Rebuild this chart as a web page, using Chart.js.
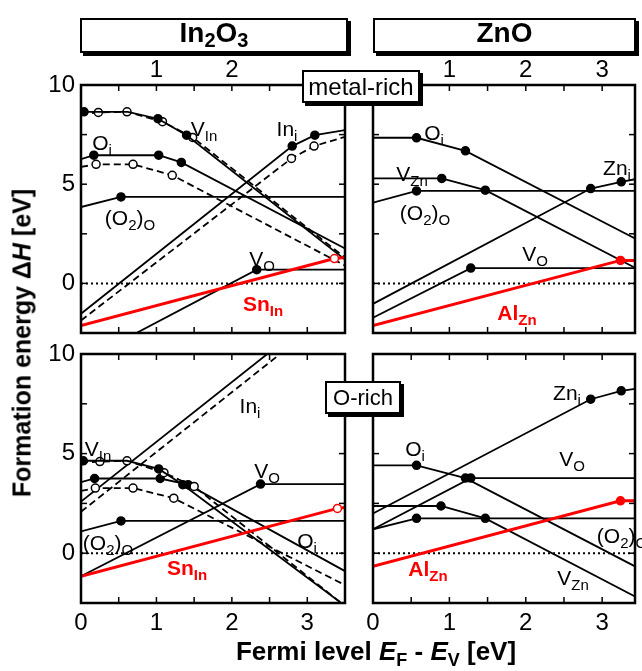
<!DOCTYPE html>
<html><head><meta charset="utf-8">
<script src="https://cdn.jsdelivr.net/npm/chart.js@4.4.1/dist/chart.umd.min.js"></script>
<style>
html,body{margin:0;padding:0;background:#fff;}
body{width:642px;height:671px;position:relative;overflow:hidden;font-family:"Liberation Sans",Arial,Helvetica,sans-serif;}
canvas{position:absolute;z-index:1;}
.box{position:absolute;border:2px solid #000;background:#fff;box-shadow:3px 3px 0 #000;box-sizing:border-box;display:flex;align-items:center;justify-content:center;z-index:5;line-height:1;}
.lab{position:absolute;transform:translate(-50%,-50%);font-size:21px;line-height:1;white-space:nowrap;color:#000;z-index:3;}
.lab sub{font-size:15px;vertical-align:-5px;line-height:0;}
.red{color:#f00;font-weight:bold;}
.title{font-weight:bold;font-size:28px;}
.title span{position:relative;top:-3px;}
.title sub{font-size:20px;vertical-align:-5px;line-height:0;}
.axt{position:absolute;font-weight:bold;font-size:25px;white-space:nowrap;line-height:1;z-index:3;}
.axt sub{font-size:18px;vertical-align:-6px;line-height:0;}
</style></head><body>

<div class="box title" style="left:80px;top:18px;width:268px;height:35px;"><span>In<sub>2</sub>O<sub>3</sub></span></div>
<div class="box title" style="left:373px;top:18px;width:263px;height:35px;"><span>ZnO</span></div>
<div class="box" style="left:302px;top:70px;width:118px;height:33px;font-size:24px;"><span>metal-rich</span></div>
<div class="box" style="left:325px;top:381px;width:76px;height:33px;font-size:22px;"><span>O-rich</span></div>

<div class="axt" style="left:22px;top:343px;transform:translate(-50%,-50%) rotate(-90deg);">Formation energy &Delta;<i>H</i> [eV]</div>
<div class="axt" style="left:376px;top:651px;transform:translate(-50%,-50%);font-size:26px;">Fermi level <i>E</i><sub>F</sub> - <i>E</i><sub>V</sub> [eV]</div>

<script>
// ---------- tick labels ----------
const xTickLabels = [0, 1, 2, 3];
const xTopLabelsIn2O3 = [1, 2];
const xTopLabelsZnO = [1, 2, 3];
const yTickLabels = [0, 5, 10];
const xMaxIn2O3 = 3.5;
const xMaxZnO = 3.43;
const yMin = -2.5, yMax = 10;

// ---------- In2O3, metal-rich ----------
const inM_VIn      = [[0,8.65],[0.04,8.65],[0.62,8.65],[1.02,8.3],[1.40,7.47],[3.5,1.2]];
const inM_VIn_dots = [1,3,4];
const inM_VIn2     = [[0,8.53],[0.23,8.62],[0.61,8.65],[1.08,8.15],[1.48,7.36],[3.5,1.3]];
const inM_VIn2_dots= [1,2,3,4];
const inM_Oi       = [[0,6.26],[0.17,6.46],[1.03,6.46],[1.33,6.1],[3.5,1.76]];
const inM_Oi_dots  = [1,2,3];
const inM_Oi2      = [[0,5.87],[0.2,6.0],[0.69,6.0],[1.21,5.45],[3.5,0.9]];
const inM_Oi2_dots = [1,2,3];
const inM_Ini      = [[0,-1.53],[2.80,6.92],[3.10,7.47],[3.5,7.73]];
const inM_Ini_dots = [1,2];
const inM_Ini2     = [[0,-1.87],[2.79,6.30],[3.09,6.92],[3.5,7.39]];
const inM_Ini2_dots= [1,2];
const inM_O2O      = [[0,3.85],[0.53,4.36],[3.5,4.36]];
const inM_O2O_dots = [1];
const inM_VO       = [[0,-3.97],[2.33,0.69],[3.5,0.69]];
const inM_VO_dots  = [1];
const inM_SnIn     = [[0,-2.12],[3.36,1.25],[3.5,1.3]];
const inM_SnIn_dots= [1];

// ---------- ZnO, metal-rich ----------
const znM_Oi       = [[0,7.34],[0.57,7.34],[1.21,6.68],[3.43,2.26]];
const znM_Oi_dots  = [1,2];
const znM_VZn      = [[0,5.29],[0.90,5.29],[1.47,4.70],[3.43,0.79]];
const znM_VZn_dots = [1,2];
const znM_O2O      = [[0,4.07],[0.57,4.66],[3.43,4.66]];
const znM_O2O_dots = [1];
const znM_Zni      = [[0,-1.03],[2.85,4.78],[3.25,5.12],[3.43,5.25]];
const znM_Zni_dots = [1,2];
const znM_VO       = [[0,-1.73],[1.28,0.77],[3.43,0.77]];
const znM_VO_dots  = [1];
const znM_AlZn     = [[0,-2.12],[3.24,1.16],[3.43,1.16]];
const znM_AlZn_dots= [1];

// ---------- In2O3, O-rich ----------
const inO_VIn      = [[0,4.64],[0.03,4.64],[0.61,4.64],[1.03,4.23],[1.35,3.44],[3.5,-2.64]];
const inO_VIn_dots = [1,3,4];
const inO_VIn2     = [[0,4.55],[0.25,4.6],[0.61,4.64],[1.10,4.04],[1.50,3.35],[3.5,-2.65]];
const inO_VIn2_dots= [1,2,3,4];
const inO_Oi       = [[0,3.57],[0.18,3.75],[1.05,3.75],[1.42,3.44],[3.5,-0.9]];
const inO_Oi_dots  = [1,2,3];
const inO_Oi2      = [[0,3.13],[0.19,3.27],[0.69,3.27],[1.23,2.76],[3.5,-1.6]];
const inO_Oi2_dots = [1,2,3];
const inO_Ini      = [[0,2.59],[3.5,13.09]];
const inO_Ini2     = [[0,2.08],[3.5,12.58]];
const inO_O2O      = [[0,1.09],[0.53,1.62],[3.5,1.62]];
const inO_O2O_dots = [1];
const inO_VO       = [[0,-1.16],[2.38,3.47],[3.5,3.47]];
const inO_VO_dots  = [1];
const inO_SnIn     = [[0,-1.16],[3.40,2.25],[3.5,2.3]];
const inO_SnIn_dots= [1];

// ---------- ZnO, O-rich ----------
const znO_Oi       = [[0,4.41],[0.57,4.41],[1.21,3.77],[3.43,-0.66]];
const znO_Oi_dots  = [1,2];
const znO_VO       = [[0,1.2],[1.28,3.77],[3.43,3.77]];
const znO_VO_dots  = [1];
const znO_Zni      = [[0,1.99],[2.85,7.73],[3.25,8.15],[3.43,8.25]];
const znO_Zni_dots = [1,2];
const znO_VZn      = [[0,2.37],[0.89,2.37],[1.47,1.75],[3.43,-2.17]];
const znO_VZn_dots = [1,2];
const znO_O2O      = [[0,1.2],[0.57,1.75],[3.43,1.75]];
const znO_O2O_dots = [1];
const znO_AlZn     = [[0,-0.66],[3.24,2.63],[3.43,2.63]];
const znO_AlZn_dots= [1];

const zeroIn = [[0,0],[xMaxIn2O3,0]];
const zeroZn = [[0,0],[xMaxZnO,0]];

// ---------- styles ----------
const DASH = [7,4];
const RED = '#ff0000';
const Z = d => ({data:d, dash:[2,3], w:2});
const S = (d,dots) => ({data:d, dots});
const D = (d,dots) => ({data:d, dots, dash:DASH, open:true});
const Rd = (d,dots,open) => ({data:d, dots, color:RED, w:3, open});

const PANELS = [
  {L:81,T:85,R:345,B:333,xmax:xMaxIn2O3,bottom:false,top:xTopLabelsIn2O3,left:true,
   series:[Z(zeroIn), S(inM_VO,inM_VO_dots), S(inM_O2O,inM_O2O_dots), D(inM_Ini2,inM_Ini2_dots), S(inM_Ini,inM_Ini_dots),
           D(inM_Oi2,inM_Oi2_dots), S(inM_Oi,inM_Oi_dots), D(inM_VIn2,inM_VIn2_dots), S(inM_VIn,inM_VIn_dots),
           Rd(inM_SnIn,inM_SnIn_dots,true)]},
  {L:373,T:85,R:635,B:333,xmax:xMaxZnO,bottom:false,top:xTopLabelsZnO,left:false,
   series:[Z(zeroZn), S(znM_VO,znM_VO_dots), S(znM_Zni,znM_Zni_dots), S(znM_O2O,znM_O2O_dots), S(znM_VZn,znM_VZn_dots),
           S(znM_Oi,znM_Oi_dots), Rd(znM_AlZn,znM_AlZn_dots,false)]},
  {L:81,T:354,R:345,B:603,xmax:xMaxIn2O3,bottom:true,top:null,left:true,
   series:[Z(zeroIn), S(inO_O2O,inO_O2O_dots), S(inO_VO,inO_VO_dots), D(inO_Ini2,[]), S(inO_Ini,[]),
           D(inO_Oi2,inO_Oi2_dots), S(inO_Oi,inO_Oi_dots), D(inO_VIn2,inO_VIn2_dots), S(inO_VIn,inO_VIn_dots),
           Rd(inO_SnIn,inO_SnIn_dots,true)]},
  {L:373,T:354,R:635,B:603,xmax:xMaxZnO,bottom:true,top:null,left:false,
   series:[Z(zeroZn), S(znO_O2O,znO_O2O_dots), S(znO_VZn,znO_VZn_dots), S(znO_VO,znO_VO_dots), S(znO_Zni,znO_Zni_dots),
           S(znO_Oi,znO_Oi_dots), Rd(znO_AlZn,znO_AlZn_dots,false)]}
];

Chart.defaults.font.family = '"Liberation Sans", Arial, Helvetica, sans-serif';
Chart.defaults.color = '#000';

const framePlugin = {
  id:'frame',
  afterDatasetsDraw(chart){
    const {ctx, chartArea:{left,right,top,bottom}, scales:{x,y}} = chart;
    const seg=(a,b,c,d)=>{ctx.beginPath();ctx.moveTo(a,b);ctx.lineTo(c,d);ctx.stroke();};
    ctx.save(); ctx.strokeStyle='#000'; ctx.lineWidth=1.5;
    const len=6;
    for (let v=0.5; v<x.max-1e-6; v+=0.5){ const px=x.getPixelForValue(v); seg(px,bottom,px,bottom-len); seg(px,top,px,top+len); }
    for (let v=y.min+2.5; v<y.max-1e-6; v+=2.5){ const py=y.getPixelForValue(v); seg(left,py,left+len,py); seg(right,py,right-len,py); }
    ctx.lineWidth=2.5; ctx.strokeRect(left,top,right-left,bottom-top);
    ctx.restore();
  }
};

function makePanel(p){
  const lw=65, th=32, rw=10, bh=40;
  const cv=document.createElement('canvas');
  cv.width=(p.R-p.L)+lw+rw; cv.height=(p.B-p.T)+th+bh;
  cv.style.left=(p.L-lw)+'px'; cv.style.top=(p.T-th)+'px';
  document.body.appendChild(cv);
  const n=p.series.length;
  const datasets=p.series.map((s,i)=>{
    const col=s.color||'#000';
    return {
      data:s.data.map(([x,y])=>({x,y})), showLine:true, tension:0, fill:false,
      borderColor:col, borderWidth:s.w||1.8, borderDash:s.dash||[],
      pointRadius:s.data.map((_,j)=>(s.dots||[]).includes(j)?4:0),
      pointHoverRadius:0,
      pointBackgroundColor:s.open?'#fff':col, pointBorderColor:col, pointBorderWidth:1.5,
      order:n-i
    };
  });
  const font={size:24};
  const grid={display:false, drawTicks:false};
  const mkTicks=list=>s=>{ s.ticks = list.filter(v=>v<=s.max).map(v=>({value:v})); };
  new Chart(cv,{
    type:'scatter',
    data:{datasets},
    options:{
      responsive:false, animation:false, events:[],
      plugins:{legend:{display:false}, tooltip:{enabled:false}},
      layout:{padding:0},
      scales:{
        x:{type:'linear', min:0, max:p.xmax, grid, border:{display:false}, position:'bottom',
           afterFit:s=>{s.height=bh;}, afterBuildTicks:mkTicks(xTickLabels),
           ticks:{display:p.bottom, autoSkip:false, maxRotation:0, padding:6, font, callback:v=>String(v)}},
        x2:{type:'linear', min:0, max:p.xmax, grid, border:{display:false}, position:'top',
           afterFit:s=>{s.height=th;}, afterBuildTicks:mkTicks(p.top||[]),
           ticks:{display:!!p.top, autoSkip:false, maxRotation:0, padding:0, font, callback:v=>String(v)}},
        y:{type:'linear', position:'left', min:yMin, max:yMax, grid, border:{display:false},
           afterFit:s=>{s.width=lw;}, afterBuildTicks:mkTicks(yTickLabels),
           ticks:{display:p.left, autoSkip:false, padding:6, font, callback:v=>String(v)}},
        y2:{type:'linear', position:'right', min:yMin, max:yMax, grid, border:{display:false},
           afterFit:s=>{s.width=rw;}, ticks:{display:false}}
      }
    },
    plugins:[framePlugin]
  });
}
PANELS.forEach(makePanel);

// ---------- curve labels ----------
const LABELS = [
  [204,128,'V<sub>In</sub>',''],[287,128,'In<sub>i</sub>',''],[102,142,'O<sub>i</sub>',''],
  [130,217,'(O<sub>2</sub>)<sub>O</sub>',''],[262,258,'V<sub>O</sub>',''],[263,303,'Sn<sub>In</sub>','red'],
  [434,132,'O<sub>i</sub>',''],[412,173,'V<sub>Zn</sub>',''],[617,167,'Zn<sub>i</sub>',''],
  [425,212,'(O<sub>2</sub>)<sub>O</sub>',''],[535,253,'V<sub>O</sub>',''],[517,312,'Al<sub>Zn</sub>','red'],
  [250,405,'In<sub>i</sub>',''],[98,448,'V<sub>In</sub>',''],[267,470,'V<sub>O</sub>',''],
  [108,542,'(O<sub>2</sub>)<sub>O</sub>',''],[307,540,'O<sub>i</sub>',''],[187,567,'Sn<sub>In</sub>','red'],
  [567,392,'Zn<sub>i</sub>',''],[415,448,'O<sub>i</sub>',''],[572,458,'V<sub>O</sub>',''],
  [622,535,'(O<sub>2</sub>)<sub>O</sub>',''],[573,577,'V<sub>Zn</sub>',''],[428,568,'Al<sub>Zn</sub>','red']
];
LABELS.forEach(([x,y,h,c])=>{
  const d=document.createElement('div'); d.className='lab '+c; d.innerHTML=h;
  d.style.left=x+'px'; d.style.top=y+'px'; document.body.appendChild(d);
});
</script>
</body></html>
